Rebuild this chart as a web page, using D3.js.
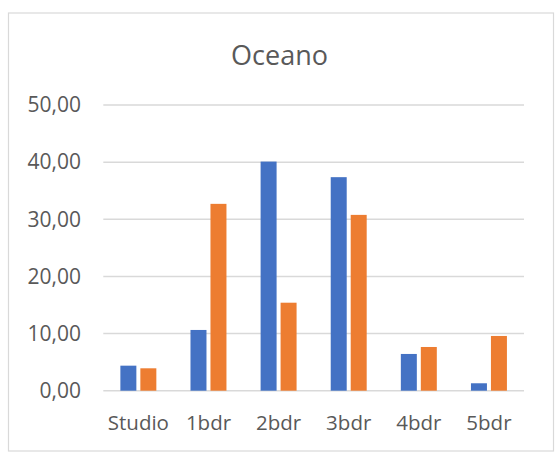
<!DOCTYPE html>
<html>
<head>
<meta charset="utf-8">
<script src="https://cdn.jsdelivr.net/npm/d3@7"></script>
<style>
  html, body { margin: 0; padding: 0; background: #fff; }
  svg { display: block; }
</style>
</head>
<body>
<svg id="chart" width="557" height="456"></svg>
<script>
// Data
const categories = ["Studio", "1bdr", "2bdr", "3bdr", "4bdr", "5bdr"];
const seriesNames = ["A", "B"];
const seriesA = [4.38, 10.63, 40.1, 37.37, 6.43, 1.3];
const seriesB = [3.92, 32.7, 15.4, 30.77, 7.65, 9.58];
const yTicks = [0, 10, 20, 30, 40, 50];
const title = "Oceano";

const colors = { A: "#4472C4", B: "#ED7D31" };
const font = "'Open Sans', sans-serif";
const textColor = "#595959";

const svg = d3.select("#chart");

// Chart frame
svg.append("rect")
  .attr("x", 8.5).attr("y", 13)
  .attr("width", 545).attr("height", 438)
  .attr("fill", "#fff").attr("stroke", "#d9d9d9").attr("stroke-width", 1.2);

const plot = { left: 103.3, right: 524, top: 105, bottom: 390.7 };

const y = d3.scaleLinear().domain([0, 50]).range([plot.bottom, plot.top]);
const x0 = d3.scaleBand().domain(categories).range([plot.left, plot.right])
  .paddingInner(0.487).paddingOuter(0.2435);
const x1 = d3.scaleBand().domain(seriesNames).range([0, x0.bandwidth()])
  .paddingInner(0.2).paddingOuter(0);

// Title
svg.append("text")
  .attr("x", 279.5).attr("y", 65)
  .attr("text-anchor", "middle")
  .attr("font-family", font).attr("font-size", 27)
  .attr("fill", textColor)
  .text(title);

// Gridlines
svg.append("g")
  .selectAll("line").data(yTicks).join("line")
  .attr("x1", plot.left).attr("x2", plot.right)
  .attr("y1", d => y(d)).attr("y2", d => y(d))
  .attr("stroke", "#d9d9d9").attr("stroke-width", 1.5);

// Y axis labels
const fmt = d => d3.format(".2f")(d).replace(".", ",");
const yAxis = d3.axisLeft(y).tickValues(yTicks).tickFormat(fmt).tickSize(0).tickPadding(0);
const gy = svg.append("g").attr("transform", `translate(81,0)`).call(yAxis);
gy.select(".domain").remove();
gy.selectAll("text")
  .attr("font-family", font).attr("font-size", 21).attr("fill", textColor);

// X axis labels
const xAxis = d3.axisBottom(x0).tickSize(0).tickPadding(0);
const gx = svg.append("g").attr("transform", `translate(0,0)`).call(xAxis);
gx.select(".domain").remove();
gx.selectAll("text")
  .attr("y", 430).attr("dy", null)
  .attr("font-family", font).attr("font-size", 20.5).attr("fill", textColor);

// Bars
const rows = categories.map((c, i) => ({ cat: c, A: seriesA[i], B: seriesB[i] }));
const groups = svg.append("g").selectAll("g").data(rows).join("g")
  .attr("transform", d => `translate(${x0(d.cat)},0)`);
groups.selectAll("rect")
  .data(d => seriesNames.map(k => ({ key: k, value: d[k] })))
  .join("rect")
  .attr("x", d => x1(d.key))
  .attr("width", x1.bandwidth())
  .attr("y", d => y(d.value))
  .attr("height", d => y(0) - y(d.value))
  .attr("fill", d => colors[d.key]);
</script>
</body>
</html>
